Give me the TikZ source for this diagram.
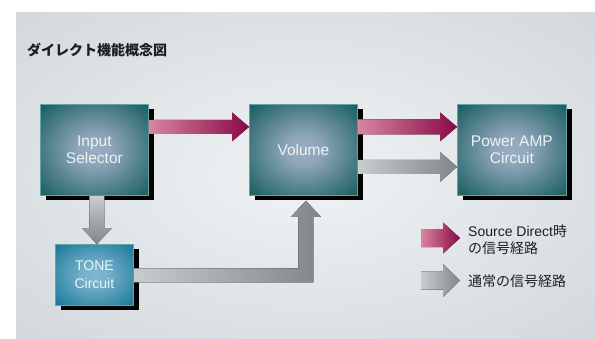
\documentclass[tikz,border=0pt]{standalone}
\usepackage{fontspec}
\setmainfont{Liberation Sans}
\newfontfamily\cjk{Noto Sans CJK JP}
\usetikzlibrary{calc,shadows}
\definecolor{panelout}{HTML}{C5CDD3}
\definecolor{panelin}{HTML}{F1F3F4}
\definecolor{tealout}{HTML}{0B5655}
\definecolor{tealin}{HTML}{9AADC2}
\definecolor{blueout}{HTML}{0E7393}
\definecolor{bluein}{HTML}{80B6D0}
\definecolor{edgeteal}{HTML}{62A6A3}
\definecolor{pinkL}{HTML}{D8869F}
\definecolor{pinkD}{HTML}{8A0848}
\definecolor{grayL}{HTML}{C8CCCD}
\definecolor{grayD}{HTML}{80868A}
\definecolor{txtdark}{HTML}{1E1E1E}
\definecolor{boxtxt}{HTML}{EEF3F4}
\pgfdeclareradialshading{tealglow}{\pgfpoint{0bp}{0bp}}{color(0bp)=(tealin); color(8bp)=(tealin!92!tealout); color(38bp)=(tealout); color(50bp)=(tealout)}
\pgfdeclareradialshading{blueglow}{\pgfpoint{0bp}{0bp}}{color(0bp)=(bluein); color(8bp)=(bluein!92!blueout); color(38bp)=(blueout); color(50bp)=(blueout)}
\pgfdeclareradialshading{panelglow}{\pgfpoint{0bp}{0bp}}{color(0bp)=(panelin); color(50bp)=(panelout)}
\tikzset{
  blk/.style={rectangle, anchor=north west, inner sep=0pt, minimum width=108pt, minimum height=91pt,
    shading=tealglow, draw=edgeteal, line width=0.8pt, text=boxtxt, align=center,
    font=\fontsize{15.5}{17}\selectfont,
    drop shadow={shadow xshift=5.5pt, shadow yshift=-5pt, fill=black, opacity=1}},
  toneblk/.style={blk, shading=blueglow, minimum width=78pt, minimum height=61pt,
    font=\fontsize{14}{18}\selectfont},
  pinkarrow/.style={left color=pinkL, right color=pinkD},
  grayarrow/.style={left color=grayL, right color=grayD},
  grayvarrow/.style={top color=grayL, bottom color=grayD},
  legendtxt/.style={anchor=west, align=left, text=txtdark, inner sep=0pt, font=\fontsize{14}{17}\selectfont},
}
% horizontal block arrow: #1 style, #2 start, #3 tip, #4 half shaft, #5 half head
\newcommand{\myharrow}[5]{%
  \fill[#1] ($(#2)+(0,-#4)$) -- ($(#3)+(-17,-#4)$) -- ($(#3)+(-17,-#5)$) -- (#3)
    -- ($(#3)+(-17,#5)$) -- ($(#3)+(-17,#4)$) -- ($(#2)+(0,#4)$) -- cycle;}
\begin{document}
\begin{tikzpicture}[x=1pt,y=-1pt]
\useasboundingbox (0,0) rectangle (595,338);
\fill[white] (0,0) rectangle (595,338);
\shade[shading=panelglow] (16,12) rectangle (595,338);

\node[anchor=west, inner sep=0pt, text=txtdark, font=\cjk\bfseries\fontsize{14}{16}\selectfont] (title) at (27,50) {ダイレクト機能概念図};

\node[blk] (in) at (40,104) {Input\\Selector};
\node[blk] (vol) at (249,104) {Volume};
\node[blk, minimum width=109pt] (amp) at (457,104) {Power AMP\\Circuit};
\node[toneblk] (tone) at (55,244) {TONE\\Circuit};

% pink: Input -> Volume
\coordinate (a1s) at ($(in.east)+(0,-23)$);
\coordinate (a1e) at ($(vol.west)+(0,-23)$);
\myharrow{pinkarrow}{a1s}{a1e}{7}{14.5}
% pink: Volume -> Power AMP
\coordinate (a2s) at ($(vol.east)+(0,-23)$);
\coordinate (a2e) at ($(amp.west)+(0,-23)$);
\myharrow{pinkarrow}{a2s}{a2e}{7.5}{14.5}
% gray: Volume -> Power AMP
\coordinate (a3s) at ($(vol.east)+(0,17)$);
\coordinate (a3e) at ($(amp.west)+(0,17)$);
\myharrow{grayarrow}{a3s}{a3e}{7}{15}

% gray: Input -> TONE (down)
\coordinate (d0) at ($(in.south)+(2.5,0)$);
\coordinate (d1) at (d0 |- tone.north);
\fill[grayvarrow] ($(d0)+(-7.5,0)$) -- ($(d1)+(-7.5,-16)$) -- ($(d1)+(-15,-16)$) -- (d1)
  -- ($(d1)+(15,-16)$) -- ($(d1)+(7.5,-16)$) -- ($(d0)+(7.5,0)$) -- cycle;

% gray: TONE -> Volume (elbow)
\coordinate (e0) at ($(tone.east)+(0,0.5)$);
\coordinate (e1) at ($(vol.south)+(2.5,5)$);
\coordinate (ec) at (e1 |- e0);
\fill[grayarrow] ($(e0)+(0,-7)$) -- ($(ec)+(-7.5,-7)$) -- ($(e1)+(-7.5,16)$) -- ($(e1)+(-15,16)$)
  -- (e1) -- ($(e1)+(15,16)$) -- ($(e1)+(7.5,16)$) -- ($(ec)+(7.5,7)$) -- ($(e0)+(0,7)$) -- cycle;

% legend
\fill[pinkarrow] (421,229) -- (443,229) -- (443,222.5) -- (460,238) -- (443,253.5) -- (443,247) -- (421,247) -- cycle;
\fill[grayarrow] (421,271.5) -- (443,271.5) -- (443,264) -- (460,280.5) -- (443,297) -- (443,289.5) -- (421,289.5) -- cycle;
\node[legendtxt] (l1) at (468,240) {Source Direct{\cjk 時}\\{\cjk の信号経路}};
\node[legendtxt] (l2) at (468,281) {\cjk 通常の信号経路};
\end{tikzpicture}
\end{document}
